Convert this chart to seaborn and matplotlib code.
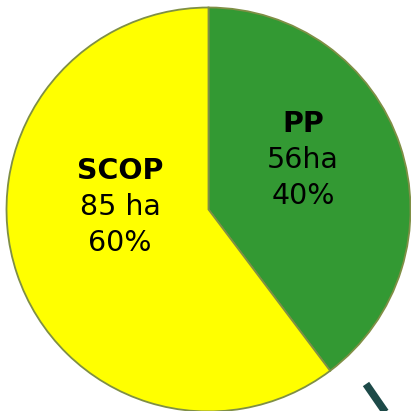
import matplotlib
matplotlib.use('Agg')
import matplotlib.pyplot as plt
import seaborn as sns

sns.set_theme(style='white')
plt.rcParams['font.family'] = ['DejaVu Sans']

# data
labels = ['PP', 'SCOP']
areas_ha = [56, 85]
area_text = ['56ha', '85 ha']
pct_text = ['40%', '60%']
colors = ['#339933', '#ffff00']

W = 411
fig = plt.figure(figsize=(W / 100, W / 100), dpi=100)
ax = fig.add_axes([0, 0, 1, 1])

# pie centre in pixel space is (208.5, 209.5), radius 202 px
cx, cy, r = 208.5, 209.5, 202
ax.pie(areas_ha, colors=colors, startangle=90, counterclock=False, radius=r,
       wedgeprops=dict(edgecolor='#7f8f45', linewidth=1.3))
ax.set_xlim(-cx, W - cx)
ax.set_ylim(-(W - cy), cy)
ax.set_aspect('equal')
ax.axis('off')

def px(x, y):
    return x - cx, cy - y

# label positions (pixel coords of the block centre)
label_pos = [(303, 160), (120, 207)]
for name, a, p, (x, y) in zip(labels, area_text, pct_text, label_pos):
    tx, ty = px(x, y)
    ax.text(tx, ty + 36, name, ha='center', va='center', fontsize=20.5, fontweight='bold', color='black')
    ax.text(tx, ty, a, ha='center', va='center', fontsize=20.5, color='black')
    ax.text(tx, ty - 36, p, ha='center', va='center', fontsize=20.5, color='black')

# stray connector stub in the lower right corner
x0, y0 = px(366, 384)
x1, y1 = px(386, 413)
ax.plot([x0, x1], [y0, y1], color='#1d4a48', linewidth=5.5, solid_capstyle='butt', clip_on=False)

fig.savefig('out.png', dpi=100, facecolor='white')
